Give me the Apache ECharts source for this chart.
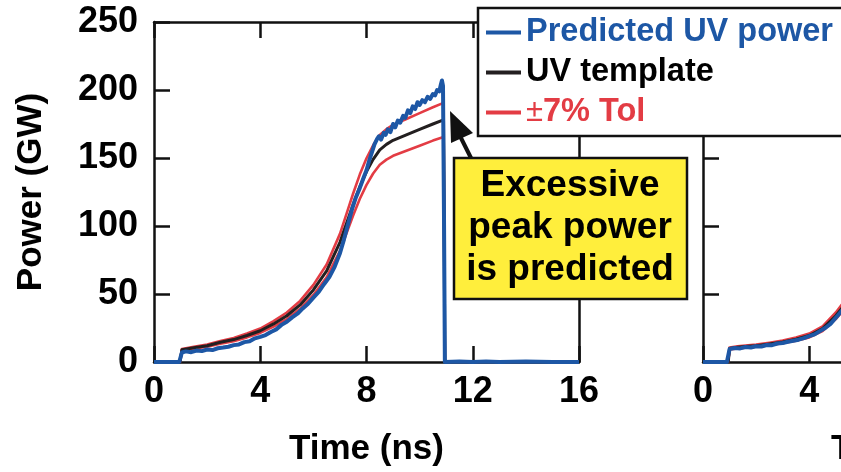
<!DOCTYPE html>
<html>
<head>
<meta charset="utf-8">
<script src="https://cdn.jsdelivr.net/npm/echarts@6/dist/echarts.min.js"></script>
<style>
  html, body { margin: 0; padding: 0; background: #fff; overflow: hidden; }
  #chart { width: 841px; height: 472px; }
</style>
</head>
<body>
<div id="chart"></div>
<script>
// ---- Shot A (left panel): UV template, ±7% band and predicted UV power ----
const timeTemplateA = [0, 0.98, 1.05, 1.5, 2, 2.5, 3, 3.5, 4, 4.5, 5, 5.5, 6, 6.5, 7, 7.25, 7.5, 7.75, 8, 8.25, 8.5, 8.75, 9, 9.5, 10, 10.5, 10.9, 10.95, 12, 14, 16];
const templateA   = [0, 0, 9, 10.5, 12, 14.5, 16.5, 19.5, 23, 28, 34, 42, 53, 67, 88, 102, 116, 129, 140, 149, 156, 160, 163, 167, 171, 175, 178, 0, 0, 0, 0];
const tolUpperA   = [0, 0, 9.6, 11.2, 12.8, 15.5, 17.7, 20.9, 24.6, 30, 36.4, 44.9, 56.7, 71.7, 94.2, 109.1, 124.1, 138, 149.8, 159.4, 166.9, 171.2, 174.4, 178.7, 183, 187.3, 190.5, 0, 0, 0, 0];
const tolLowerA   = [0, 0, 8.4, 9.8, 11.2, 13.5, 15.3, 18.1, 21.4, 26, 31.6, 39.1, 49.3, 62.3, 81.8, 94.9, 107.9, 120, 130.2, 138.6, 145.1, 148.8, 151.6, 155.3, 159, 162.8, 165.5, 0, 0, 0, 0];

const timePredA = [0, 0.95, 1.0, 1.05, 1.2, 1.4, 1.6, 1.8, 2.0, 2.2, 2.4, 2.6, 2.8, 3.0, 3.2, 3.4, 3.6, 3.8, 4.0, 4.2, 4.4, 4.6, 4.8, 5.0, 5.2, 5.4, 5.6, 5.8, 6.0, 6.2, 6.4, 6.6, 6.8, 7.0, 7.15, 7.3, 7.45, 7.6, 7.75, 7.9, 8.0, 8.1, 8.2, 8.3, 8.4, 8.47, 8.55, 8.65, 8.72, 8.8, 8.9, 9.0, 9.08, 9.18, 9.27, 9.38, 9.46, 9.56, 9.65, 9.74, 9.83, 9.92, 10.0, 10.1, 10.2, 10.3, 10.4, 10.5, 10.58, 10.66, 10.74, 10.8, 10.84, 10.88, 10.92, 10.95, 11.5, 12, 12.5, 13, 14, 15, 16];
const predA     = [0, 0, 1, 7, 7.8, 7.2, 8.4, 8.0, 9.2, 8.8, 10.1, 10.6, 11.2, 12.4, 12.9, 14.6, 15.2, 17.4, 18.5, 19.8, 22.1, 24, 27.3, 29.6, 32.8, 35.5, 39.4, 42.8, 47.3, 51.5, 57.2, 62.5, 70, 80, 90, 101, 112, 121, 128, 136, 141, 148, 154, 160, 164, 166, 163.5, 168.5, 167, 171, 169, 175, 172.5, 177.5, 176, 181, 179.5, 185, 183, 188, 186, 191, 189, 192.5, 191, 195, 193.5, 197, 196, 200, 199, 204, 207, 203, 100, 0, 0.4, 0, 0.3, 0, 0.4, 0, 0];

// ---- Shot B (right panel, partly in view) ----
const timeTemplateB = [0, 0.95, 1.0, 1.3, 1.7, 2.0, 2.5, 3.0, 3.5, 4.0, 4.5, 5.0, 5.5, 6.0];
const templateB   = [0, 0, 10, 10.8, 11.5, 12, 13.3, 14.8, 16.8, 19.5, 24.5, 34, 46, 60];
const tolUpperB   = [0, 0, 10.7, 11.6, 12.3, 12.8, 14.2, 15.8, 18, 20.9, 26.2, 36.4, 49.2, 64.2];
const tolLowerB   = [0, 0, 9.3, 10, 10.7, 11.2, 12.4, 13.8, 15.6, 18.1, 22.8, 31.6, 42.8, 55.8];

const timePredB = [0, 0.9, 0.95, 1.0, 1.2, 1.4, 1.6, 1.8, 2.0, 2.2, 2.4, 2.6, 2.8, 3.0, 3.2, 3.4, 3.6, 3.8, 4.0, 4.2, 4.4, 4.6, 4.8, 5.0, 5.2, 5.4, 5.6, 5.8, 6.0];
const predB     = [0, 0, 1, 9.5, 10.3, 10.0, 11.0, 10.7, 11.6, 11.4, 12.5, 12.4, 13.6, 14.0, 14.9, 15.6, 16.4, 17.6, 19.0, 20.3, 22.7, 25, 28, 32.5, 37, 42, 48, 54, 60];

// ---- Axis ticks ----
const timeTicks = [0, 4, 8, 12, 16];
const powerTicks = [0, 50, 100, 150, 200, 250];

const FONT = '"Liberation Sans", Arial, Helvetica, sans-serif';
const BLUE = '#1d57a5';
const BLACK = '#231f20';
const RED = '#e33c44';
const AXIS = '#111';

const pairs = (xs, ys) => xs.map((x, i) => [x, ys[i]]);

const tickLabelStyle = { fontFamily: FONT, fontWeight: 'bold', fontSize: 36, color: '#000' };

function xAxes(gridIndex, namePadRight) {
  return [
    {
      gridIndex, type: 'value', position: 'bottom',
      min: timeTicks[0], max: timeTicks[timeTicks.length - 1], interval: timeTicks[1] - timeTicks[0],
      name: 'Time (ns)', nameLocation: 'middle', nameGap: 70,
      nameTextStyle: { fontFamily: FONT, fontWeight: 'bold', fontSize: 35, color: '#000', padding: [0, namePadRight, 0, 0] },
      axisLine: { show: true, onZero: false, lineStyle: { color: AXIS, width: 2.5 } },
      axisTick: { show: true, inside: true, length: 16, lineStyle: { color: AXIS, width: 2.5 } },
      axisLabel: Object.assign({ margin: 12 }, tickLabelStyle),
      splitLine: { show: false }
    },
    {
      gridIndex, type: 'value', position: 'top',
      min: timeTicks[0], max: timeTicks[timeTicks.length - 1], interval: timeTicks[1] - timeTicks[0],
      axisLine: { show: true, onZero: false, lineStyle: { color: AXIS, width: 2.5 } },
      axisTick: { show: true, inside: true, length: 16, lineStyle: { color: AXIS, width: 2.5 } },
      axisLabel: { show: false },
      splitLine: { show: false }
    }
  ];
}

function yAxes(gridIndex, withLabels) {
  return [
    {
      gridIndex, type: 'value', position: 'left',
      min: powerTicks[0], max: powerTicks[powerTicks.length - 1], interval: powerTicks[1] - powerTicks[0],
      name: withLabels ? 'Power (GW)' : '', nameLocation: 'middle', nameGap: 105,
      nameTextStyle: { fontFamily: FONT, fontWeight: 'bold', fontSize: 35, color: '#000' },
      axisLine: { show: true, onZero: false, lineStyle: { color: AXIS, width: 2.5 } },
      axisTick: { show: true, inside: true, length: 16, lineStyle: { color: AXIS, width: 2.5 } },
      axisLabel: Object.assign({ show: withLabels, margin: 16 }, tickLabelStyle),
      splitLine: { show: false }
    },
    {
      gridIndex, type: 'value', position: 'right',
      min: powerTicks[0], max: powerTicks[powerTicks.length - 1], interval: powerTicks[1] - powerTicks[0],
      axisLine: { show: true, onZero: false, lineStyle: { color: AXIS, width: 2.5 } },
      axisTick: { show: true, inside: true, length: 16, lineStyle: { color: AXIS, width: 2.5 } },
      axisLabel: { show: false },
      splitLine: { show: false }
    }
  ];
}

function line(name, data, color, width, xAxisIndex, yAxisIndex) {
  return {
    type: 'line', name, data, color,
    xAxisIndex, yAxisIndex,
    showSymbol: false, symbol: 'none', smooth: false,
    lineStyle: { color, width, join: 'round' },
    emphasis: { disabled: true },
    animation: false
  };
}

const TOL = '±7% Tol';
const PRED = 'Predicted UV power';
const TMPL = 'UV template';

const chart = echarts.init(document.getElementById('chart'), null, { renderer: 'canvas' });

chart.setOption({
  backgroundColor: '#fff',
  animation: false,
  grid: [
    { left: 154, top: 22, width: 425, height: 340, containLabel: false, outerBoundsMode: 'none' },
    { left: 703, top: 22, width: 425, height: 340, containLabel: false, outerBoundsMode: 'none' }
  ],
  xAxis: [...xAxes(0, 0), ...xAxes(1, 14)],
  yAxis: [...yAxes(0, true), ...yAxes(1, false)],
  legend: {
    orient: 'vertical', left: 478, top: 8,
    backgroundColor: 'transparent', borderWidth: 0,
    padding: [8, 10, 9, 8], itemGap: 7, itemWidth: 35, itemHeight: 4,
    icon: 'rect', selectedMode: false, z: 10,
    textStyle: {
      fontFamily: FONT, fontWeight: 'bold', fontSize: 32.5,
      rich: {
        pm: { fontFamily: FONT, fontWeight: 'normal', fontSize: 31, color: RED },
        tol: { fontFamily: FONT, fontWeight: 'bold', fontSize: 32.5, color: RED }
      }
    },
    formatter: (name) => name === TOL ? '{pm|±}{tol|7% Tol}' : name,
    data: [
      { name: PRED, textStyle: { color: BLUE } },
      { name: TMPL, textStyle: { color: '#000' } },
      { name: TOL, textStyle: { color: RED } }
    ]
  },
  series: [
    line(TOL, pairs(timeTemplateA, tolLowerA), RED, 2.6, 0, 0),
    line(TOL, pairs(timeTemplateA, tolUpperA), RED, 2.6, 0, 0),
    line(TMPL, pairs(timeTemplateA, templateA), BLACK, 3, 0, 0),
    line(PRED, pairs(timePredA, predA), BLUE, 4, 0, 0),
    line(TOL, pairs(timeTemplateB, tolLowerB), RED, 2.6, 2, 2),
    line(TOL, pairs(timeTemplateB, tolUpperB), RED, 2.6, 2, 2),
    line(TMPL, pairs(timeTemplateB, templateB), BLACK, 3, 2, 2),
    line(PRED, pairs(timePredB, predB), BLUE, 4, 2, 2)
  ],
  graphic: [
    // legend panel: white fill plus a frame open on the right (it runs past the figure edge)
    {
      type: 'rect', z: 5,
      shape: { x: 478, y: 8, width: 400, height: 128 },
      style: { fill: '#fff', lineWidth: 0 }
    },
    {
      type: 'polyline', z: 6,
      shape: { points: [[900, 8], [478, 8], [478, 136], [900, 136]] },
      style: { stroke: '#111', lineWidth: 2.5, fill: null }
    },
    // callout arrow pointing at the predicted peak
    {
      type: 'line', z: 20,
      shape: { x1: 471, y1: 158, x2: 460, y2: 136 },
      style: { stroke: '#111', lineWidth: 4 }
    },
    {
      type: 'polygon', z: 20,
      shape: { points: [[450, 111], [451, 143], [473, 133]] },
      style: { fill: '#111' }
    },
    // callout box
    {
      type: 'rect', z: 21,
      shape: { x: 454, y: 158, width: 233, height: 141 },
      style: { fill: '#ffee3c', stroke: '#111', lineWidth: 2.5 }
    },
    {
      type: 'text', z: 22,
      x: 570, y: 228,
      style: {
        text: 'Excessive\npeak power\nis predicted',
        fontFamily: FONT, fontWeight: 'bold', fontSize: 37, lineHeight: 42,
        fill: '#000', align: 'center', verticalAlign: 'middle'
      }
    }
  ]
});
</script>
</body>
</html>
